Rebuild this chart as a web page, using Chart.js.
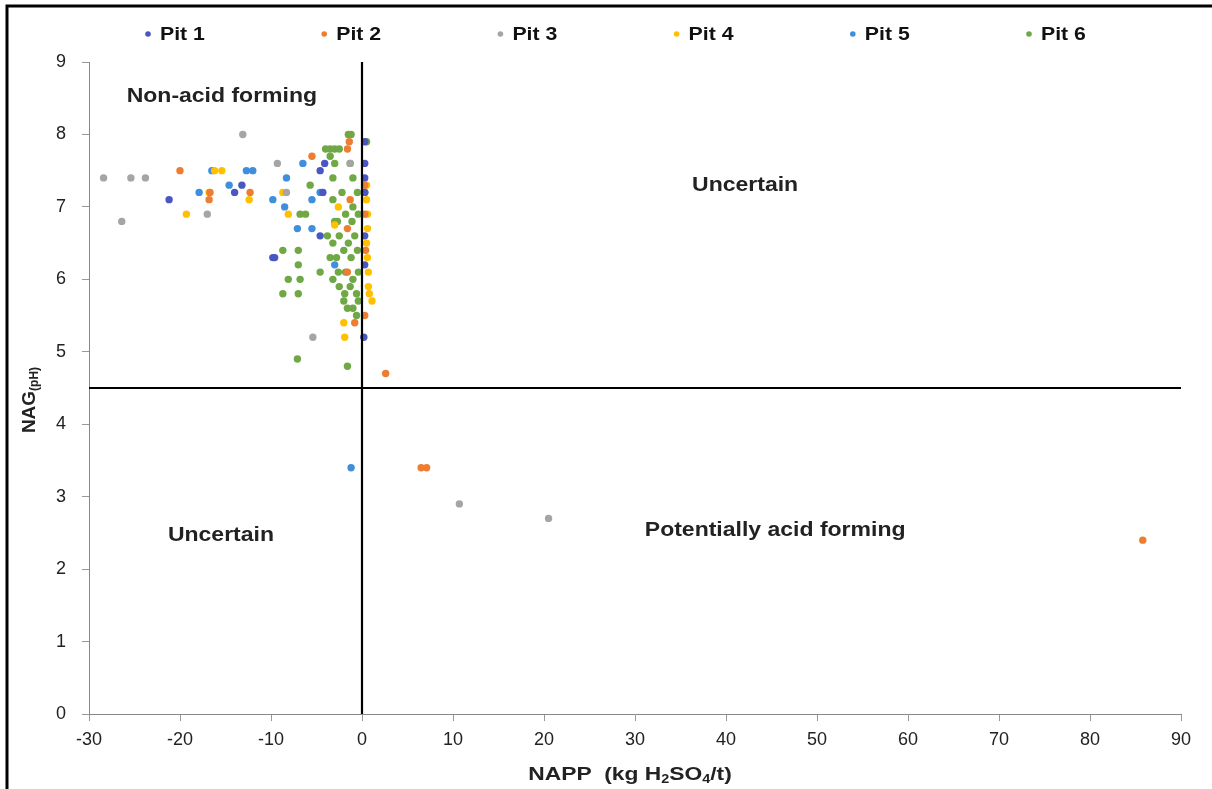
<!DOCTYPE html>
<html>
<head>
<meta charset="utf-8">
<script src="https://cdn.jsdelivr.net/npm/chart.js@4.4.1/dist/chart.umd.min.js"></script>
<style>
  html, body { margin: 0; padding: 0; background: #fff; }
  #wrap { width: 1212px; height: 789px; }
</style>
</head>
<body>
<div id="wrap"><canvas id="napp" width="1212" height="789"></canvas></div>
<script>
// series names + colours
const pitNames = ["Pit 1", "Pit 2", "Pit 3", "Pit 4", "Pit 5", "Pit 6"];
const pitColors = ["#4a57c2", "#ed7d31", "#a5a5a5", "#ffc000", "#3f8fdc", "#6fa845"];

// NAPP (x) and NAG pH (y), one pair of arrays per pit
const pit1X = [-21.2, -14.0, -13.2, -4.6, -4.1, -9.6, -4.6, -4.3, 0.3, 0.3, 0.3, 0.3, 0.3, 0.3, 0.2, -9.8];
const pit1Y = [7.1, 7.2, 7.3, 7.5, 7.6, 6.3, 6.6, 7.2, 7.9, 7.6, 7.4, 7.2, 6.6, 6.2, 5.2, 6.3];

const pit2X = [-20.0, -16.7, -16.8, -12.3, -5.5, -1.6, -1.4, -1.6, -1.6, -0.8, 0.3, 0.3, 0.4, 0.3, -1.3, 2.6, 6.5, 7.1, 85.8];
const pit2Y = [7.5, 7.2, 7.1, 7.2, 7.7, 7.8, 7.9, 6.7, 6.1, 5.4, 7.3, 6.9, 6.4, 5.5, 7.1, 4.7, 3.4, 3.4, 2.4];

const pit3X = [-28.4, -25.4, -23.8, -26.4, -13.1, -17.0, -9.3, -8.3, -5.4, -1.3, 10.7, 20.5];
const pit3Y = [7.4, 7.4, 7.4, 6.8, 8.0, 6.9, 7.6, 7.2, 5.2, 7.6, 2.9, 2.7];

const pit4X = [-19.3, -16.2, -15.4, -16.8, -12.4, -8.7, -8.1, -2.6, -3.0, -1.9, -2.0, 0.5, 0.5, 0.6, 0.6, 0.5, 0.6, 0.7, 0.7, 1.1, 0.8];
const pit4Y = [6.9, 7.5, 7.5, 7.2, 7.1, 7.2, 6.9, 7.0, 6.75, 5.2, 5.4, 7.3, 7.1, 6.9, 6.7, 6.5, 6.3, 6.1, 5.9, 5.7, 5.8];

const pit5X = [-16.5, -17.9, -14.6, -12.7, -12.0, -6.5, -4.6, -5.5, -9.8, -8.5, -7.1, -5.5, -3.0, 0.3, -8.3, -1.2];
const pit5Y = [7.5, 7.2, 7.3, 7.5, 7.5, 7.6, 7.2, 7.1, 7.1, 7.0, 6.7, 6.7, 6.2, 7.2, 7.4, 3.4];

const pit6X = [-4.0, -3.5, -3.0, -2.5, -3.5, -3.0, -1.5, -1.2, -3.2, -1.3, -5.7, -3.2, -6.8, -6.2, -2.7, -1.0, -1.0, 0.5,
               -8.7, -7.0, -7.0, -8.1, -6.8, -8.7, -7.0, -4.6, -1.6, -7.1, -1.6,
               -3.0, -1.1, -3.8, -3.2, -2.5, -1.5, -0.8, -3.5, -2.8, -2.0, -1.2, -0.5, -3.2, -2.6, -1.8, -1.0, -0.4,
               -2.5, -1.9, -1.3, -0.6, -2.0, -1.0, -0.4, -0.6, -1.8, -2.2, -0.5, -0.4];
const pit6Y = [7.8, 7.8, 7.8, 7.8, 7.7, 7.6, 8.0, 8.0, 7.4, 7.6, 7.3, 7.1, 6.9, 6.9, 6.8, 7.4, 7.0, 7.9,
               6.4, 6.4, 6.2, 6.0, 6.0, 5.8, 5.8, 6.1, 5.6, 4.9, 4.8,
               6.8, 6.8, 6.6, 6.5, 6.6, 6.5, 6.6, 6.3, 6.3, 6.4, 6.3, 6.4, 6.0, 6.1, 6.1, 6.0, 6.1,
               5.9, 5.8, 5.9, 5.8, 5.7, 5.6, 5.7, 5.5, 6.9, 7.2, 7.2, 6.9];

const pitX = [pit1X, pit2X, pit3X, pit4X, pit5X, pit6X];
const pitY = [pit1Y, pit2Y, pit3Y, pit4Y, pit5Y, pit6Y];

// classification boundaries: NAG pH 4.5 and NAPP 0
const hLineX = [-30, 90];
const hLineY = [4.5, 4.5];
const vLineX = [0, 0];
const vLineY = [0, 9];

// axis ticks
const xTicks = [-30, -20, -10, 0, 10, 20, 30, 40, 50, 60, 70, 80, 90];
const yTicks = [0, 1, 2, 3, 4, 5, 6, 7, 8, 9];

// quadrant labels
const zoneLabels = ["Non-acid forming", "Uncertain", "Uncertain", "Potentially acid forming"];
const zoneX = [-15.4, 42.1, -15.5, 45.4];
const zoneY = [8.53, 7.3, 2.46, 2.54];

const FONT = "'Liberation Sans', Arial, sans-serif";

const datasets = pitNames.map((name, i) => ({
    label: name,
    data: pitX[i].map((x, j) => ({ x, y: pitY[i][j] })),
    backgroundColor: pitColors[i],
    borderColor: pitColors[i],
    borderWidth: 0,
    pointRadius: 3.7,
    pointHoverRadius: 4,
    order: 2,
}));

[[hLineX, hLineY], [vLineX, vLineY]].forEach(([xs, ys]) => {
    datasets.push({
        label: "_line",
        data: xs.map((x, j) => ({ x, y: ys[j] })),
        showLine: true,
        borderColor: "#000",
        borderWidth: 2.2,
        pointRadius: 0,
        order: 1,
    });
});

// text in the figure is a bit wider than Arial, so stretch it sideways
function wideText(ctx, text, x, y, stretch) {
    ctx.save();
    ctx.translate(x, y);
    ctx.scale(stretch, 1);
    ctx.fillText(text, 0, 0);
    ctx.restore();
}

// bold text with subscript parts, centred on the current origin
function drawRich(ctx, parts, size, subSize, stretch) {
    let w = 0;
    parts.forEach(p => {
        ctx.font = `bold ${p.sub ? subSize : size}px ${FONT}`;
        w += ctx.measureText(p.t).width;
    });
    ctx.scale(stretch, 1);
    let x = -w / 2;
    parts.forEach(p => {
        ctx.font = `bold ${p.sub ? subSize : size}px ${FONT}`;
        ctx.fillText(p.t, x, p.sub ? 5 : 0);
        x += ctx.measureText(p.t).width;
    });
}

const extras = {
    id: "extras",
    afterDraw(chart) {
        const { ctx, scales } = chart;
        ctx.save();
        // outer frame
        ctx.strokeStyle = "#000";
        ctx.lineWidth = 3;
        ctx.beginPath();
        ctx.moveTo(7, 789);
        ctx.lineTo(7, 6);
        ctx.lineTo(1212, 6);
        ctx.stroke();

        // legend row
        ctx.textBaseline = "middle";
        ctx.textAlign = "left";
        ctx.font = `bold 19px ${FONT}`;
        pitNames.forEach((name, i) => {
            const mx = 148 + i * 176.2;
            ctx.fillStyle = pitColors[i];
            ctx.beginPath();
            ctx.arc(mx, 34, 2.8, 0, Math.PI * 2);
            ctx.fill();
            ctx.fillStyle = "#111";
            wideText(ctx, name, mx + 12, 35, 1.12);
        });

        // zone labels
        ctx.fillStyle = "#222";
        ctx.textAlign = "center";
        ctx.font = `bold 20px ${FONT}`;
        zoneLabels.forEach((t, i) => {
            wideText(ctx, t, scales.x.getPixelForValue(zoneX[i]), scales.y.getPixelForValue(zoneY[i]), 1.15);
        });

        // axis titles
        ctx.textAlign = "left";
        ctx.save();
        ctx.translate(630, 775);
        drawRich(ctx, [{ t: "NAPP  (kg H" }, { t: "2", sub: true }, { t: "SO" }, { t: "4", sub: true }, { t: "/t)" }], 19, 12, 1.2);
        ctx.restore();

        ctx.save();
        ctx.translate(30, 400);
        ctx.rotate(-Math.PI / 2);
        drawRich(ctx, [{ t: "NAG" }, { t: "(pH)", sub: true }], 19, 12, 1.0);
        ctx.restore();
        ctx.restore();
    }
};

new Chart(document.getElementById("napp"), {
    type: "scatter",
    data: { datasets },
    options: {
        responsive: false,
        animation: false,
        layout: { padding: { left: 0, right: 31, top: 62, bottom: 0 } },
        plugins: {
            tooltip: { enabled: false },
            legend: { display: false },
        },
        scales: {
            x: {
                type: "linear",
                min: -30,
                max: 90,
                afterFit: s => { s.height = 75; },
                afterBuildTicks: s => { s.ticks = xTicks.map(v => ({ value: v })); },
                ticks: { color: "#222", padding: 8, font: { family: FONT, size: 18 } },
                grid: { display: true, drawOnChartArea: false, drawTicks: true, tickLength: 7, color: "#999" },
                border: { display: true, color: "#888", width: 1 },
            },
            y: {
                type: "linear",
                min: 0,
                max: 9,
                afterFit: s => { s.width = 89; },
                afterBuildTicks: s => { s.ticks = yTicks.map(v => ({ value: v })); },
                ticks: { color: "#222", padding: 16, font: { family: FONT, size: 18 } },
                grid: { display: true, drawOnChartArea: false, drawTicks: true, tickLength: 7, color: "#999" },
                border: { display: true, color: "#888", width: 1 },
            },
        },
    },
    plugins: [extras],
});
</script>
</body>
</html>
